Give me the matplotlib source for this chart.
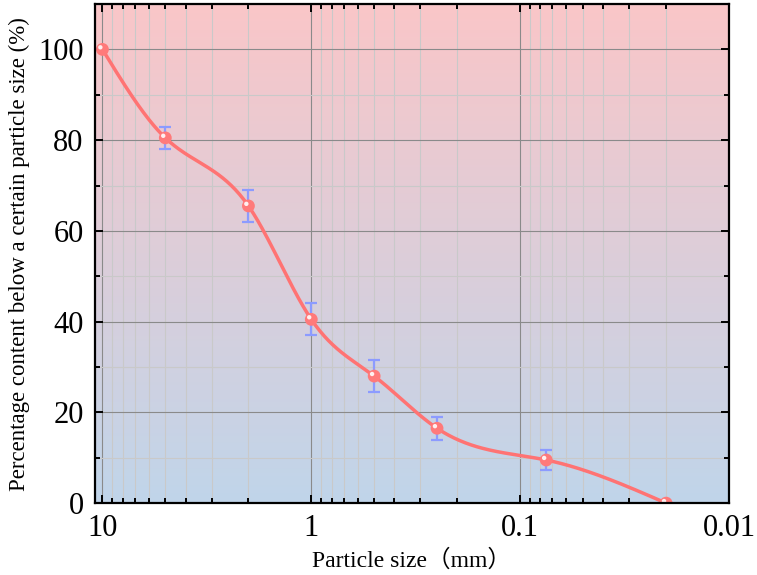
import numpy as np
import matplotlib
matplotlib.use("Agg")
import matplotlib.pyplot as plt
import matplotlib.transforms as mtransforms
from matplotlib.colors import LinearSegmentedColormap
from matplotlib.ticker import LogLocator, FixedLocator, MultipleLocator, NullFormatter

# Data
particle_size = [10, 5, 2, 1, 0.5, 0.25, 0.075, 0.02]
percent_below = [100, 80.5, 65.5, 40.5, 28.0, 16.5, 9.5, 0.0]
error = [0, 2.5, 3.5, 3.5, 3.5, 2.5, 2.3, 0]
x_ticks = [10, 1, 0.1, 0.01]
x_tick_labels = ["10", "1", "0.1", "0.01"]
y_ticks = [0, 20, 40, 60, 80, 100]

def natural_spline(x, y, xs):
    x = np.asarray(x, float); y = np.asarray(y, float)
    n = len(x)
    h = np.diff(x)
    A = np.zeros((n, n)); b = np.zeros(n)
    A[0, 0] = 1; A[-1, -1] = 1
    for i in range(1, n - 1):
        A[i, i - 1] = h[i - 1]
        A[i, i] = 2 * (h[i - 1] + h[i])
        A[i, i + 1] = h[i]
        b[i] = 3 * ((y[i + 1] - y[i]) / h[i] - (y[i] - y[i - 1]) / h[i - 1])
    c = np.linalg.solve(A, b)
    out = np.empty_like(xs)
    for k, xv in enumerate(xs):
        i = np.clip(np.searchsorted(x, xv) - 1, 0, n - 2)
        dx = xv - x[i]
        bi = (y[i + 1] - y[i]) / h[i] - h[i] * (2 * c[i] + c[i + 1]) / 3
        di = (c[i + 1] - c[i]) / (3 * h[i])
        out[k] = y[i] + bi * dx + c[i] * dx ** 2 + di * dx ** 3
    return out

lx = -np.log10(np.array(particle_size, float))
xs = np.linspace(lx[0], lx[-1], 400)
ys = natural_spline(lx, percent_below, xs)

fig = plt.figure(figsize=(7.57, 5.75), dpi=100)
ax = fig.add_axes([0.125, 0.125, 0.838, 0.868])

# gradient background
cmap = LinearSegmentedColormap.from_list("bg", ["#C0D5EA", "#FAC6C8"])
grad = np.linspace(0, 1, 256).reshape(-1, 1)
ax.imshow(grad, extent=[0, 1, 0, 1], transform=ax.transAxes, origin="lower",
          cmap=cmap, aspect="auto", zorder=0)

ax.set_xscale("log")
ax.set_xlim(10.9, 0.01)
ax.set_ylim(0, 110)

ax.xaxis.set_major_locator(FixedLocator(x_ticks))
ax.set_xticklabels(x_tick_labels)
ax.xaxis.set_minor_locator(LogLocator(base=10, subs=np.arange(2, 10)))
ax.xaxis.set_minor_formatter(NullFormatter())
ax.yaxis.set_major_locator(FixedLocator(y_ticks))
ax.yaxis.set_minor_locator(MultipleLocator(10))

ax.grid(which="major", color="#8a8a8a", linewidth=0.8, zorder=1)
ax.grid(which="minor", color="#c9c9c9", linewidth=0.8, zorder=1)

ax.plot(10 ** (-xs), ys, color="#FF7373", linewidth=2.5, zorder=3)
ax.errorbar(particle_size, percent_below, yerr=error, fmt="none",
            ecolor="#8C9BFF", elinewidth=1.6, capsize=4.5, capthick=1.6, zorder=4)
ax.scatter(particle_size, percent_below, s=85, color="#FF7A7A", zorder=5,
           edgecolors="none")
hl = mtransforms.offset_copy(ax.transData, fig=fig, x=-1.5, y=1.5, units="points")
ax.scatter(particle_size, percent_below, s=10, color="#FFF0F0", zorder=6,
           edgecolors="none", transform=hl)

ax.tick_params(which="both", direction="in", top=True, right=True,
               labelsize=22, width=1.4)
ax.tick_params(which="major", length=6, pad=8)
ax.tick_params(which="minor", length=3.5)
for lab in ax.get_xticklabels() + ax.get_yticklabels():
    lab.set_fontfamily("Liberation Serif")
for s in ax.spines.values():
    s.set_linewidth(1.6)
    s.set_zorder(7)

ax.set_xlabel("Particle size（mm）", fontsize=17,
              family=["Liberation Serif", "Noto Sans CJK SC"], labelpad=4)
ax.set_ylabel("Percentage content below a certain particle size (%)", fontsize=16.5,
              family=["Liberation Serif"], labelpad=6)

fig.savefig("out.png", dpi=100)
